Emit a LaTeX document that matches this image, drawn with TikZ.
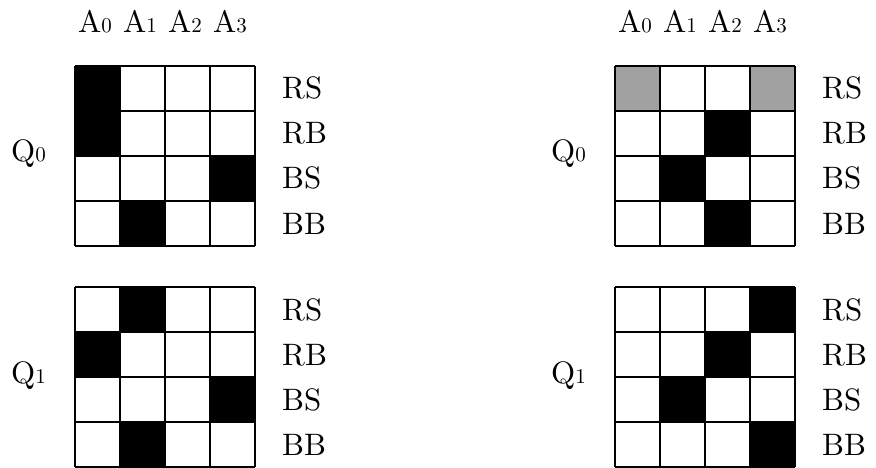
\documentclass[tikz,border=0pt]{standalone}
\usepackage{fontspec}
\setmainfont{lmroman10-regular}[Extension=.otf]
\newcommand\mysub[1]{{\fontsize{21}{25}\selectfont #1}}
\tikzset{
  lbl/.style={inner sep=0pt, font=\fontsize{31}{36}\selectfont},
  cellline/.style={line width=2pt},
  blk/.style={fill=black},
  gry/.style={fill=black!37}
}
\begin{document}
\begin{tikzpicture}[x=1pt,y=-1pt]
\useasboundingbox (0,0) rectangle (876,468);
% grid 1: top left
\begin{scope}[shift={(75,66)}]
  \foreach \r/\c in {0/0,1/0,2/3,3/1} \fill[blk] (\c*45,\r*45) rectangle +(45,45);
  \foreach \i in {0,...,4} {
    \draw[cellline] (\i*45,0) -- (\i*45,180);
    \draw[cellline] (0,\i*45) -- (180,\i*45);
  }
  \foreach \c in {0,...,3} \node[lbl,anchor=base] (tlA\c) at (\c*45+20,-33) {A\mysub{\c}};
  \foreach \t [count=\k from 0] in {RS,RB,BS,BB} \node[lbl,anchor=base west] (tlR\k) at (207,\k*45+33) {\t};
  \node[lbl,anchor=base west] (tlQ) at (-64,96) {Q\mysub{0}};
\end{scope}
% grid 2: top right
\begin{scope}[shift={(615,66)}]
  \foreach \r/\c in {0/0,0/3} \fill[gry] (\c*45,\r*45) rectangle +(45,45);
  \foreach \r/\c in {1/2,2/1,3/2} \fill[blk] (\c*45,\r*45) rectangle +(45,45);
  \foreach \i in {0,...,4} {
    \draw[cellline] (\i*45,0) -- (\i*45,180);
    \draw[cellline] (0,\i*45) -- (180,\i*45);
  }
  \foreach \c in {0,...,3} \node[lbl,anchor=base] (trA\c) at (\c*45+20,-33) {A\mysub{\c}};
  \foreach \t [count=\k from 0] in {RS,RB,BS,BB} \node[lbl,anchor=base west] (trR\k) at (207,\k*45+33) {\t};
  \node[lbl,anchor=base west] (trQ) at (-64,96) {Q\mysub{0}};
\end{scope}
% grid 3: bottom left
\begin{scope}[shift={(75,287)}]
  \foreach \r/\c in {0/1,1/0,2/3,3/1} \fill[blk] (\c*45,\r*45) rectangle +(45,45);
  \foreach \i in {0,...,4} {
    \draw[cellline] (\i*45,0) -- (\i*45,180);
    \draw[cellline] (0,\i*45) -- (180,\i*45);
  }
  \foreach \t [count=\k from 0] in {RS,RB,BS,BB} \node[lbl,anchor=base west] (blR\k) at (207,\k*45+33) {\t};
  \node[lbl,anchor=base west] (blQ) at (-64,96) {Q\mysub{1}};
\end{scope}
% grid 4: bottom right
\begin{scope}[shift={(615,287)}]
  \foreach \r/\c in {0/3,1/2,2/1,3/3} \fill[blk] (\c*45,\r*45) rectangle +(45,45);
  \foreach \i in {0,...,4} {
    \draw[cellline] (\i*45,0) -- (\i*45,180);
    \draw[cellline] (0,\i*45) -- (180,\i*45);
  }
  \foreach \t [count=\k from 0] in {RS,RB,BS,BB} \node[lbl,anchor=base west] (brR\k) at (207,\k*45+33) {\t};
  \node[lbl,anchor=base west] (brQ) at (-64,96) {Q\mysub{1}};
\end{scope}
\end{tikzpicture}
\end{document}
